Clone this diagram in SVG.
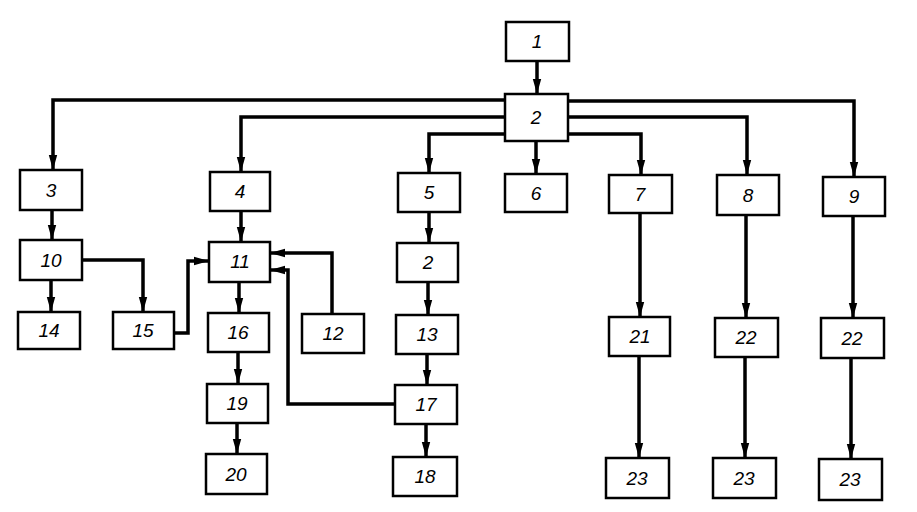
<svg xmlns="http://www.w3.org/2000/svg" width="917" height="512" viewBox="0 0 917 512">
<style>
.b{fill:#fff;stroke:#000;stroke-width:2.5}
.t{font-family:"Liberation Sans",Arial,sans-serif;font-style:italic;font-size:19px;text-anchor:middle;fill:#000}
.c{fill:none;stroke:#000;stroke-width:3.5;stroke-linejoin:miter}
</style>
<defs>
<marker id="a" markerUnits="userSpaceOnUse" markerWidth="16" markerHeight="10" refX="15" refY="5" orient="auto">
<path d="M0,0.8 L15,5 L0,9.2 Z" fill="#000"/>
</marker>
</defs>
<rect width="917" height="512" fill="#fff"/>
<g id="connectors" marker-end="url(#a)">
<path class="c" d="M537,61 V94"/>
<path class="c" d="M505,100 H53 V170"/>
<path class="c" d="M505,117 H241 V172"/>
<path class="c" d="M505,134 H429 V173"/>
<path class="c" d="M536,141 V174"/>
<path class="c" d="M568,134 H641 V175"/>
<path class="c" d="M568,117 H747 V175"/>
<path class="c" d="M568,101 H854 V177"/>
<path class="c" d="M52,210 V240"/>
<path class="c" d="M241,211 V242"/>
<path class="c" d="M429,212 V243"/>
<path class="c" d="M51,280 V312"/>
<path class="c" d="M82,260 H143 V312"/>
<path class="c" d="M174,333 H188 V261 H209"/>
<path class="c" d="M332,314 V253 H270"/>
<path class="c" d="M395,404 H288 V270 H270"/>
<path class="c" d="M239,282 V313"/>
<path class="c" d="M238,352 V384"/>
<path class="c" d="M237,423 V454"/>
<path class="c" d="M428,282 V315"/>
<path class="c" d="M427,354 V385"/>
<path class="c" d="M426,424 V457"/>
<path class="c" d="M640,213 V317"/>
<path class="c" d="M639,356 V458"/>
<path class="c" d="M746,215 V318"/>
<path class="c" d="M745,357 V458"/>
<path class="c" d="M853,216 V318"/>
<path class="c" d="M851,358 V459"/>
</g>
<g id="n1"><rect class="b" x="506" y="22" width="63" height="39"/><text class="t" x="537" y="48">1</text></g>
<g id="n2"><rect class="b" x="505" y="94" width="63" height="47"/><text class="t" x="536" y="124">2</text></g>
<g id="n3"><rect class="b" x="20" y="170" width="62" height="40"/><text class="t" x="51" y="197">3</text></g>
<g id="n4"><rect class="b" x="210" y="172" width="60" height="39"/><text class="t" x="240" y="198">4</text></g>
<g id="n5"><rect class="b" x="398" y="173" width="62" height="39"/><text class="t" x="429" y="199">5</text></g>
<g id="n6"><rect class="b" x="505" y="174" width="62" height="38"/><text class="t" x="536" y="200">6</text></g>
<g id="n7"><rect class="b" x="609" y="175" width="63" height="38"/><text class="t" x="640" y="201">7</text></g>
<g id="n8"><rect class="b" x="717" y="175" width="62" height="40"/><text class="t" x="748" y="202">8</text></g>
<g id="n9"><rect class="b" x="823" y="177" width="62" height="39"/><text class="t" x="854" y="203">9</text></g>
<g id="n10"><rect class="b" x="20" y="240" width="62" height="40"/><text class="t" x="51" y="267">10</text></g>
<g id="n11"><rect class="b" x="209" y="242" width="61" height="40"/><text class="t" x="240" y="268">11</text></g>
<g id="n2b"><rect class="b" x="397" y="243" width="61" height="39"/><text class="t" x="428" y="269">2</text></g>
<g id="n14"><rect class="b" x="18" y="312" width="62" height="37"/><text class="t" x="49" y="337">14</text></g>
<g id="n15"><rect class="b" x="113" y="312" width="61" height="37"/><text class="t" x="143" y="337">15</text></g>
<g id="n16"><rect class="b" x="208" y="313" width="61" height="39"/><text class="t" x="238" y="339">16</text></g>
<g id="n12"><rect class="b" x="302" y="314" width="62" height="39"/><text class="t" x="333" y="340">12</text></g>
<g id="n13"><rect class="b" x="396" y="315" width="62" height="39"/><text class="t" x="427" y="341">13</text></g>
<g id="n21"><rect class="b" x="609" y="317" width="61" height="39"/><text class="t" x="640" y="343">21</text></g>
<g id="n22a"><rect class="b" x="715" y="318" width="63" height="39"/><text class="t" x="746" y="344">22</text></g>
<g id="n22b"><rect class="b" x="821" y="318" width="63" height="40"/><text class="t" x="852" y="345">22</text></g>
<g id="n19"><rect class="b" x="207" y="384" width="61" height="39"/><text class="t" x="237" y="410">19</text></g>
<g id="n17"><rect class="b" x="395" y="385" width="62" height="39"/><text class="t" x="426" y="411">17</text></g>
<g id="n20"><rect class="b" x="206" y="454" width="61" height="40"/><text class="t" x="236" y="481">20</text></g>
<g id="n18"><rect class="b" x="393" y="457" width="64" height="39"/><text class="t" x="425" y="483">18</text></g>
<g id="n23a"><rect class="b" x="606" y="458" width="63" height="40"/><text class="t" x="637" y="485">23</text></g>
<g id="n23b"><rect class="b" x="713" y="458" width="63" height="40"/><text class="t" x="744" y="485">23</text></g>
<g id="n23c"><rect class="b" x="819" y="459" width="63" height="41"/><text class="t" x="850" y="486">23</text></g>
</svg>
